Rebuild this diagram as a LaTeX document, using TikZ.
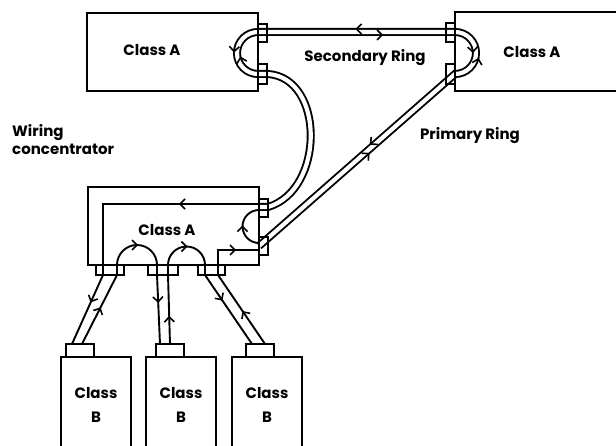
\documentclass[tikz,border=0pt]{standalone}
\usepackage{fontspec}
\setmainfont{Poppins}
\usetikzlibrary{decorations.markings}
\newcommand\lblfont{\bfseries\fontsize{15}{24}\selectfont}
\tikzset{
  boxn/.style={draw, line width=2.1pt, inner sep=0pt, outer sep=0pt},
  portn/.style={draw, line width=1.8pt, inner sep=0pt, outer sep=0pt},
  lbl/.style={font=\lblfont, inner sep=0pt},
  cable/.style={double, double distance=4.2pt, line width=1.9pt},
  wire/.style={line width=1.9pt, line join=miter},
  chev/.style={line width=1.6pt},
  dmark/.style 2 args={postaction={decorate, decoration={markings,
     mark=at position #1 with {\draw[chev] (-5,8) -- (0,3) -- (-5,-2);},
     mark=at position #2 with {\draw[chev] (5,-8) -- (0,-3) -- (5,2);}}}},
  smark/.style={postaction={decorate, decoration={markings,
     mark=at position #1 with {\draw[chev] (-5,5) -- (0,0) -- (-5,-5);}}}},
}
\begin{document}
\begin{tikzpicture}[x=1pt,y=-1pt]
\useasboundingbox (0,0) rectangle (616,446);
\clip (0,0) rectangle (616,446);
% boxes
\node[boxn, minimum width=171pt, minimum height=78pt] (tl) at (172.5,52) {};
\node[boxn, minimum width=171pt, minimum height=79pt] (tr) at (540.5,51.5) {};
\node[boxn, minimum width=171pt, minimum height=78pt] (ba) at (173.5,226) {};
\node[boxn, minimum width=70pt, minimum height=100pt] (b1) at (96,407) {};
\node[boxn, minimum width=70pt, minimum height=100pt] (b2) at (181,407) {};
\node[boxn, minimum width=70pt, minimum height=100pt] (b3) at (267,407) {};
% ring coordinates
\coordinate (s1) at (258,32);
\coordinate (s2) at (455,32);
\coordinate (t1) at (258,74);
\coordinate (t2) at (455,74);
\coordinate (c1) at (259,207);
\coordinate (c2) at (259,246);
% double cable ring
\draw[cable] (c1) -- (268,207) .. controls (325,190) and (325,78) .. (268,74) -- (t1)
  arc[start angle=90, end angle=270, radius=21] -- (s2)
  arc[start angle=270, end angle=450, radius=21] -- (c2);
\path[dmark={0.63}{0.5}] (s1) -- (s2);
\path[dmark={0.42}{0.52}] (t1) arc[start angle=90, end angle=270, radius=21];
\path[dmark={0.48}{0.58}] (s2) arc[start angle=270, end angle=450, radius=21];
\path[dmark={0.42}{0.45}] (t2) -- (c2);
% single wires in concentrator and to class B stations
\draw[wire, smark=79pt, smark=256pt] (259,204) -- (103,204) -- (103,275) -- (72,344);
\draw[wire, smark=40pt, smark=118.8pt, smark=187pt] (82,344) -- (117,275) -- (117,265)
  arc[start angle=180, end angle=360, radius=20] -- (157,275) -- (160,344);
\draw[wire, smark=27pt, smark=108pt, smark=177pt] (170,344) -- (168,275) -- (168,265)
  arc[start angle=180, end angle=360, radius=18.5] -- (205,275) -- (252,344);
\draw[wire, smark=38.7pt, smark=125.5pt] (265,344) -- (218,275) -- (218,250) -- (259,250);
\draw[wire, smark=25.9pt] (259,243) arc[start angle=90, end angle=270, radius=16.5];
% ports
\node[portn, minimum width=9pt, minimum height=18pt] (tlp1) at (262.5,33) {};
\node[portn, minimum width=9pt, minimum height=20pt] (tlp2) at (262.5,74) {};
\node[portn, minimum width=9pt, minimum height=19pt] (trp1) at (450.5,32.5) {};
\node[portn, minimum width=9pt, minimum height=20pt] (trp2) at (450.5,74) {};
\node[portn, minimum width=9pt, minimum height=18pt] (bap1) at (263.5,208) {};
\node[portn, minimum width=9pt, minimum height=18pt] (bap2) at (263.5,246) {};
\node[portn, minimum width=28pt, minimum height=10pt] (bp1) at (110,270) {};
\node[portn, minimum width=30pt, minimum height=10pt] (bp2) at (163,270) {};
\node[portn, minimum width=27pt, minimum height=10pt] (bp3) at (211.5,270) {};
\node[portn, minimum width=28pt, minimum height=13pt] (q1) at (80,350.5) {};
\node[portn, minimum width=28pt, minimum height=13pt] (q2) at (170,350.5) {};
\node[portn, minimum width=28pt, minimum height=13pt] (q3) at (260,350.5) {};
% labels
\node[lbl] (tll) at (152,50) {Class A};
\node[lbl] (trl) at (532,52) {Class A};
\node[lbl] (bal) at (167,230) {Class A};
\node[lbl] (sec) at (365,58) {Secondary Ring};
\node[lbl] (pri) at (470,136) {Primary Ring};
\node[lbl, align=left, anchor=west] (wc) at (12,140) {Wiring\\[-6pt]concentrator};
\node[lbl, align=center] (b1l) at (96,405) {Class\\B};
\node[lbl, align=center] (b2l) at (181,405) {Class\\B};
\node[lbl, align=center] (b3l) at (267,405) {Class\\B};
\end{tikzpicture}
\end{document}
